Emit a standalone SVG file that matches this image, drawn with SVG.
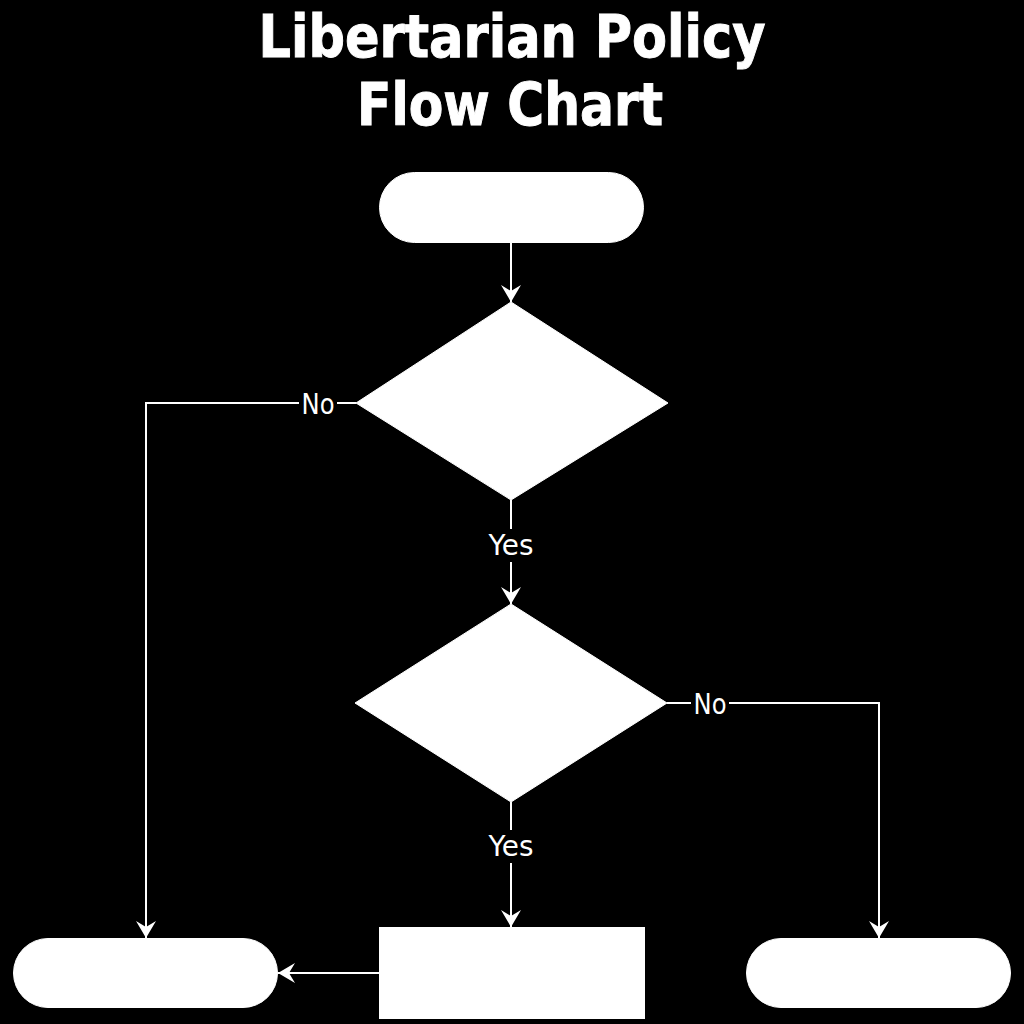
<svg xmlns="http://www.w3.org/2000/svg" width="1024" height="1024" viewBox="0 0 1024 1024">
  <style>
    .node { fill: #ffffff; stroke: #ffffff; stroke-width: 1; }
    .edge { fill: none; stroke: #ffffff; stroke-width: 2; }
    .title { font-family: "DejaVu Sans", Verdana, sans-serif; font-weight: bold; font-size: 58px; fill: #ffffff; text-anchor: middle; stroke: #ffffff; stroke-width: 1; }
    .lbl { font-family: "DejaVu Sans", Verdana, sans-serif; font-size: 28px; fill: #ffffff; text-anchor: middle; }
    .lblbg { fill: #000000; }
  </style>
  <defs>
    <marker id="arrow" markerUnits="userSpaceOnUse" markerWidth="18" markerHeight="22" viewBox="0 -11 18 22" refX="17" refY="0" orient="auto">
      <path d="M0,-10 L17,0 L0,10 L6,0 Z" fill="#ffffff"/>
    </marker>
  </defs>
  <rect x="0" y="0" width="1024" height="1024" fill="#000000"/>

  <g id="title">
    <text class="title" x="512" y="57" textLength="507" lengthAdjust="spacingAndGlyphs">Libertarian Policy</text>
    <text class="title" x="510" y="125" textLength="306" lengthAdjust="spacingAndGlyphs">Flow Chart</text>
  </g>

  <g id="connectors">
    <path class="edge" d="M511,243 L511,302" marker-end="url(#arrow)"/>
    <path class="edge" d="M511,500 L511,604" marker-end="url(#arrow)"/>
    <path class="edge" d="M511,802 L511,927" marker-end="url(#arrow)"/>
    <path class="edge" d="M356,403 L146,403 L146,938" marker-end="url(#arrow)"/>
    <path class="edge" d="M667,703 L879,703 L879,938" marker-end="url(#arrow)"/>
    <path class="edge" d="M379,973 L278,973" marker-end="url(#arrow)"/>
    <g id="labels">
      <rect class="lblbg" x="299" y="390" width="38" height="28"/>
      <text class="lbl" x="318" y="414" textLength="33" lengthAdjust="spacingAndGlyphs">No</text>
      <rect class="lblbg" x="486" y="529" width="50" height="33"/>
      <text class="lbl" x="511" y="555" textLength="45" lengthAdjust="spacingAndGlyphs">Yes</text>
      <rect class="lblbg" x="691" y="690" width="38" height="28"/>
      <text class="lbl" x="710" y="714" textLength="33" lengthAdjust="spacingAndGlyphs">No</text>
      <rect class="lblbg" x="486" y="830" width="50" height="33"/>
      <text class="lbl" x="511" y="856" textLength="45" lengthAdjust="spacingAndGlyphs">Yes</text>
    </g>
  </g>

  <g id="start">
    <rect class="node" x="379.5" y="172.5" width="264" height="70" rx="35" ry="35"/>
  </g>
  <g id="decision1">
    <polygon class="node" points="511,302 668,403 511,500 356,403"/>
  </g>
  <g id="decision2">
    <polygon class="node" points="511,604 667,703 511,802 355,703"/>
  </g>
  <g id="process">
    <rect class="node" x="379.5" y="927.5" width="265" height="91"/>
  </g>
  <g id="end-left">
    <rect class="node" x="13.5" y="938.5" width="264" height="69" rx="34.5" ry="34.5"/>
  </g>
  <g id="end-right">
    <rect class="node" x="746.5" y="938.5" width="264" height="69" rx="34.5" ry="34.5"/>
  </g>
</svg>
